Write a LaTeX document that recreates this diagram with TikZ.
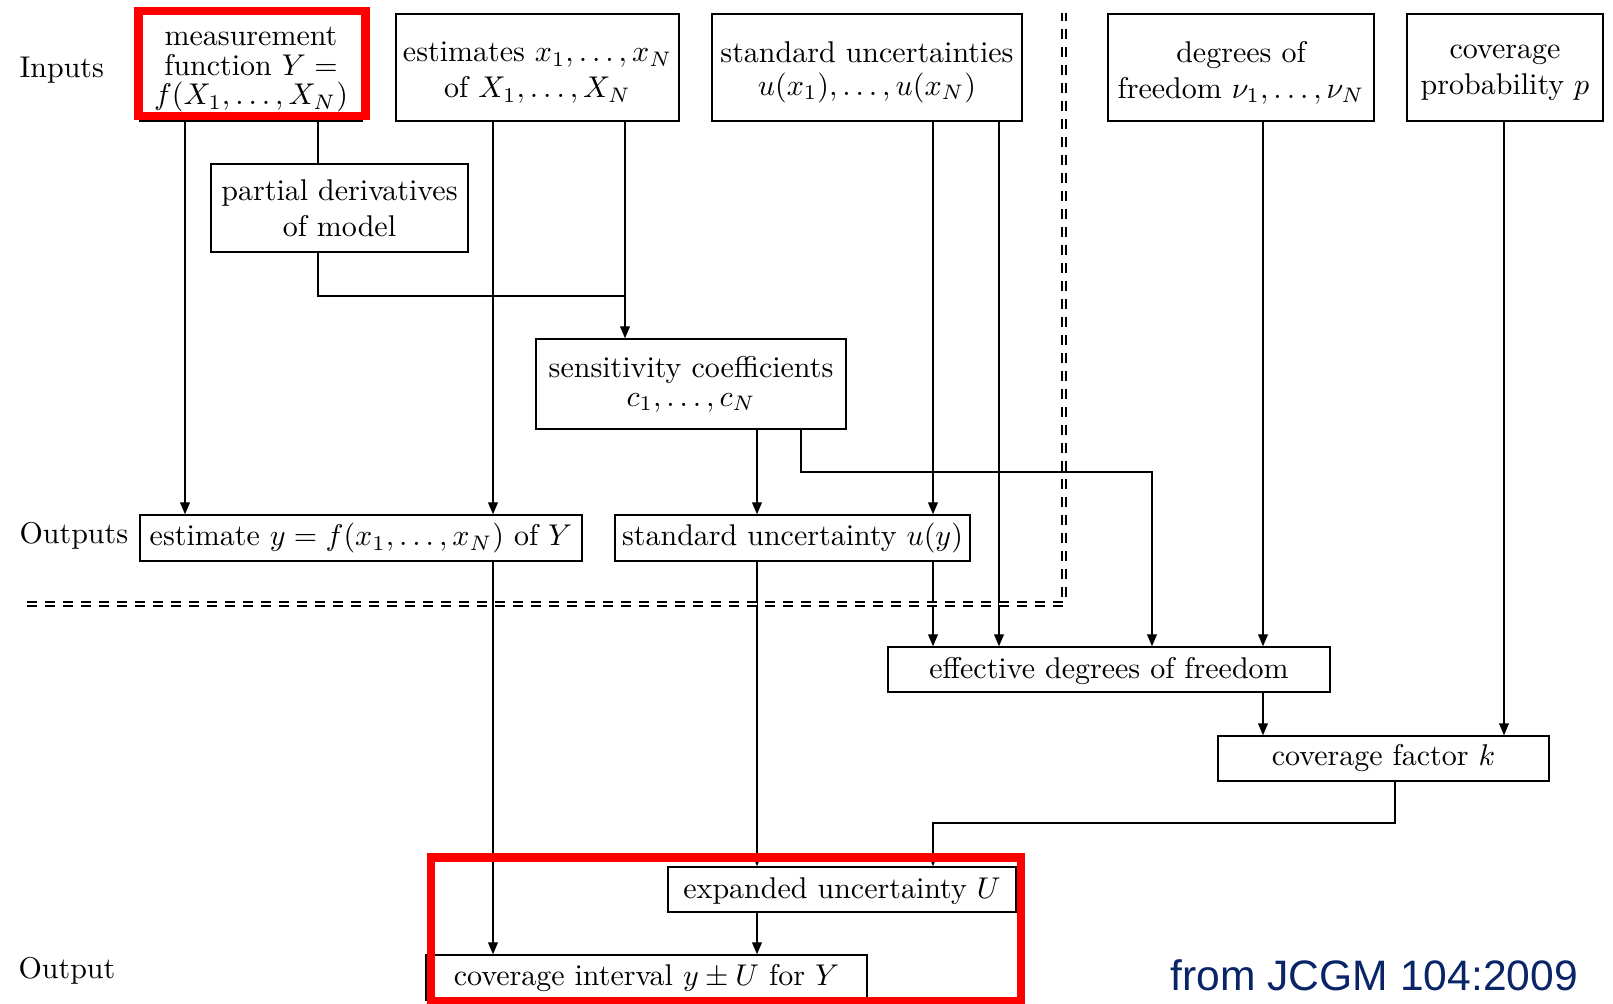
\documentclass[tikz,border=0pt]{standalone}
\usepackage{fontspec}
\newfontfamily\arialfont{Liberation Sans}
\usetikzlibrary{arrows.meta}
\definecolor{jcgmblue}{RGB}{10,36,104}
\newcommand\mkbox[6]{\node[bx, minimum width={(#4-#2)*1pt/3}, minimum height={(#5-#3)*1pt/3}] (#1) at ({(#2+#4)/2},{(#3+#5)/2}) {#6};}
\newcommand\dn[1]{\rule{0pt}{#1}}
\begin{document}
\begin{tikzpicture}[x=0.333333pt,y=-0.333333pt,
  bx/.style={draw, line width=0.5pt, inner sep=0pt, align=center, font=\fontsize{10}{12}\selectfont},
  con/.style={line width=0.4pt},
  arr/.style={con, -{Triangle[length=4pt,width=3.3pt]}},
  redframe/.style={draw=red, line width=2.8pt},
  sep/.style={line width=0.6pt, double, double distance=0.5pt, dash pattern=on 3.3pt off 2.7pt},
  lab/.style={anchor=base west, inner sep=0pt, font=\fontsize{10}{12}\selectfont}]
\useasboundingbox (0,0) rectangle (1613,1003);

% boxes
\mkbox{meas}{140}{14}{362}{121}{\dn{7.6pt}measurement\\[-2.2pt] function $Y=$\\[-2.2pt] $f(X_1,\ldots,X_N)$}
\mkbox{est}{396}{14}{679}{121}{\dn{10.2pt}estimates $x_1,\ldots,x_N$\\ of $X_1,\ldots,X_N$}
\mkbox{stdu}{712}{14}{1022}{121}{\dn{10.2pt}standard uncertainties\\[-1.2pt] $u(x_1),\ldots,u(x_N)$}
\mkbox{dof}{1108}{14}{1374}{121}{\dn{10.5pt}degrees of\\ freedom $\nu_1,\ldots,\nu_N$}
\mkbox{covp}{1407}{14}{1603}{121}{\dn{8.2pt}coverage\\ probability $p$}
\mkbox{part}{211}{164}{468}{252}{partial derivatives\\ of model}
\mkbox{sens}{536}{339}{846}{429}{sensitivity coefficients\\[-2.4pt] $c_1,\ldots,c_N$}
\mkbox{esty}{140}{515}{582}{561}{estimate $y=f(x_1,\ldots,x_N)$ of $Y$}
\mkbox{uy}{615}{515}{970}{561}{standard uncertainty $u(y)$}
\mkbox{eff}{888}{647}{1330}{692}{\dn{7.9pt}effective degrees of freedom}
\mkbox{covk}{1218}{736}{1549}{781}{coverage factor $k$}
\mkbox{expU}{668}{867}{1016}{912}{\dn{8.2pt}expanded uncertainty $U$}
\mkbox{covI}{426}{955}{867}{1000}{coverage interval $y\pm U$ for $Y$}

% labels
\node[lab] (linputs) at (19,77) {Inputs};
\node[lab] (loutputs) at (19,543.5) {Outputs};
\node[lab] (loutput) at (18,978.5) {Output};
\node[anchor=base west, inner sep=0pt, text=jcgmblue, font=\arialfont\fontsize{14.2}{17}\selectfont] (src) at (1170,990) {from JCGM 104:2009};

% column coordinates
\coordinate (cA) at (185,0);
\coordinate (cB) at (318,0);
\coordinate (cC) at (493,0);
\coordinate (cD) at (625,0);
\coordinate (cE) at (757,0);
\coordinate (cF) at (801,0);
\coordinate (cG) at (933,0);
\coordinate (cH) at (999,0);
\coordinate (cI) at (1152,0);
\coordinate (cJ) at (1263,0);
\coordinate (cK) at (1504,0);
\coordinate (cL) at (1395,0);
\coordinate (j1) at (625,296);
\coordinate (j2) at (1152,472);
\coordinate (j3) at (933,823);

% connectors
\draw[arr] (cA |- meas.south) -- (cA |- esty.north);
\draw[con] (cB |- meas.south) -- (cB |- part.north);
\draw[con] (cB |- part.south) |- (j1);
\draw[arr] (cC |- est.south) -- (cC |- esty.north);
\draw[arr] (cD |- est.south) -- (cD |- sens.north);
\draw[arr] (cG |- stdu.south) -- (cG |- uy.north);
\draw[arr] (cH |- stdu.south) -- (cH |- eff.north);
\draw[arr] (cE |- sens.south) -- (cE |- uy.north);
\draw[arr] (cF |- sens.south) |- (j2) -- (cI |- eff.north);
\draw[arr] (cJ |- dof.south) -- (cJ |- eff.north);
\draw[arr] (cK |- covp.south) -- (cK |- covk.north);
\draw[arr] (cC |- esty.south) -- (cC |- covI.north);
\draw[arr] (cE |- uy.south) -- (cE |- expU.north);
\draw[arr] (cG |- uy.south) -- (cG |- eff.north);
\draw[arr] (cJ |- eff.south) -- (cJ |- covk.north);
\draw[arr] (cL |- covk.south) |- (j3) -- (cG |- expU.north);
\draw[arr] (cE |- expU.south) -- (cE |- covI.north);

% separator
\coordinate (s1) at (27,604);
\coordinate (s2) at (1064,604);
\coordinate (s3) at (1064,13);
\draw[sep] (s1) -- (s2) -- (s3);

% red highlight frames
\draw[redframe] (138.5,11) rectangle (365.5,116);
\draw[redframe] (431,857.5) rectangle (1021,1001);
\end{tikzpicture}
\end{document}
